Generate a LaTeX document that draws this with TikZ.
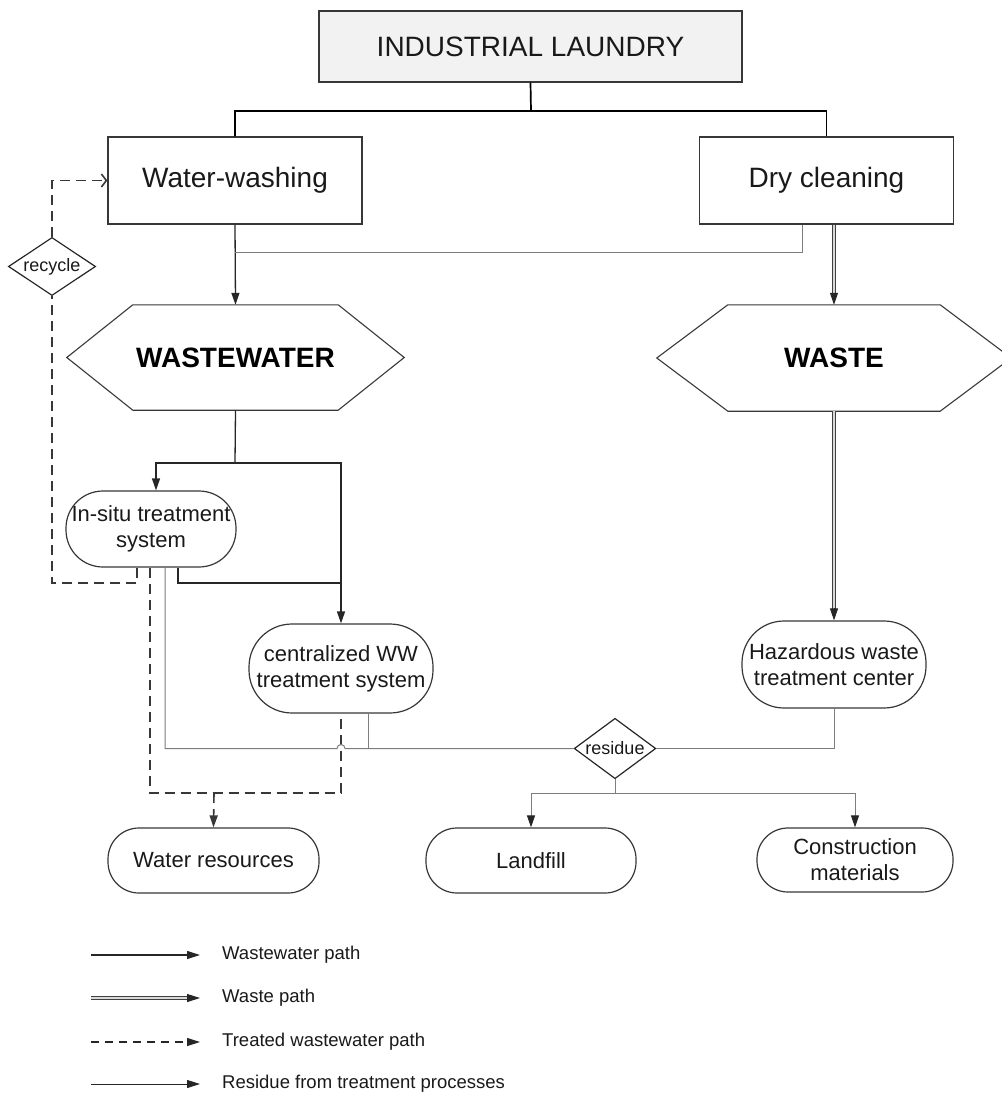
\documentclass[tikz,border=0pt]{standalone}
\usepackage{fontspec}
\setmainfont{Liberation Sans}
\usetikzlibrary{arrows.meta,shapes.geometric,calc}
\definecolor{titlegray}{RGB}{242,242,242}
\definecolor{edge}{RGB}{55,55,55}
\definecolor{resgray}{RGB}{125,125,125}
\definecolor{txt}{RGB}{25,25,25}
\begin{document}
\begin{tikzpicture}[x=1pt,y=-1pt,text=txt,
  box/.style={draw=edge,line width=1.2pt,inner sep=0pt,font=\fontsize{28}{32}\selectfont},
  pill/.style={draw=edge,line width=1.2pt,rounded corners=#1,inner sep=0pt,align=center,font=\fontsize{22}{26}\selectfont},
  hexnode/.style={inner sep=0pt,text=black,font=\bfseries\fontsize{28}{32}\selectfont},
  hexline/.style={draw=edge,line width=1.1pt},
  dia/.style={diamond,draw=black!85,line width=1.2pt,inner sep=1pt,font=\fontsize{18}{20}\selectfont},
  topline/.style={draw=black,line width=1.7pt},
  tip/.style={-{Triangle[length=12pt,width=8pt]}},
  darktip/.style={-{Triangle[length=12pt,width=8pt,color=black!85]}},
  wwline/.style={draw=black!85,line width=1.3pt},
  resline/.style={draw=resgray,line width=1pt},
  twline/.style={draw=black!78,line width=1.6pt,dash pattern=on 10pt off 6pt},
  wasteline/.style={draw=black!75,line width=1.2pt,double=white!85!black,double distance=1.8pt},
  legtext/.style={anchor=west,inner sep=0pt,font=\fontsize{18.5}{20}\selectfont}
]
\useasboundingbox (0,0) rectangle (1001,1094);

% main boxes
\node[box,fill=titlegray,minimum width=423pt,minimum height=71pt] (title) at (530.5,46.5) {INDUSTRIAL LAUNDRY};
\node[box,minimum width=254pt,minimum height=87pt] (wash) at (235,180.5) {Water-washing};
\node[box,minimum width=254pt,minimum height=87pt] (dry) at (826.5,180.5) {Dry cleaning};

% hexagons
\node[hexnode,minimum width=337pt,minimum height=105pt] (ww) at (235.5,357.5) {WASTEWATER};
\draw[hexline] (ww.west) -- ($(ww.north west)+(66,0)$) -- ($(ww.north east)+(-66,0)$) -- (ww.east)
  -- ($(ww.south east)+(-66,0)$) -- ($(ww.south west)+(66,0)$) -- cycle;
\node[hexnode,minimum width=354pt,minimum height=106pt] (waste) at (834,358) {WASTE};
\draw[hexline] (waste.west) -- ($(waste.north west)+(71,0)$) -- ($(waste.north east)+(-71,0)$) -- (waste.east)
  -- ($(waste.south east)+(-71,0)$) -- ($(waste.south west)+(71,0)$) -- cycle;

% pills
\node[pill=37pt,minimum width=170pt,minimum height=76pt] (insitu) at (151,529) {In-situ treatment\\system};
\node[pill=43pt,minimum width=184pt,minimum height=89pt] (central) at (341,668.5) {centralized WW\\treatment system};
\node[pill=42pt,minimum width=184pt,minimum height=87pt] (haz) at (834,664.5) {Hazardous waste\\treatment center};
\node[pill=31pt,minimum width=211pt,minimum height=65pt] (water) at (213.5,860.5) {Water resources};
\node[pill=31pt,minimum width=210pt,minimum height=65pt] (landfill) at (531,860.5) {Landfill};
\node[pill=31pt,minimum width=196pt,minimum height=64pt] (constr) at (855,860) {Construction\\materials};

% diamonds
\node[dia,aspect=1.5] (recycle) at (52,266.5) {recycle};
\node[dia,aspect=1.35] (res) at (615,748.5) {residue};

% junction coordinates
\coordinate (jtop) at (531,111);
\coordinate (j1) at (235,252);
\coordinate (j2) at (235,463);
\coordinate (j6) at (341,583);
\coordinate (j8) at (52,583);
\coordinate (j4) at (214,793);
\coordinate (j5) at (368,748.5);
\coordinate (j7) at (615,793);
\coordinate (hop) at (337,748.5);

% top connectors
\draw[topline] (title.south) -- (jtop) -| (wash.north);
\draw[topline] (jtop) -| (dry.north);

% wastewater paths
\draw[wwline,tip] (wash.south) -- (ww.north);
\draw[resline] ($(dry.south)+(-24.5,0)$) |- (j1);
\draw[wwline] (ww.south) -- (j2);
\draw[wwline,tip] (j2) -| ($(insitu.north)+(5,0)$);
\draw[wwline,tip] (j2) -| (central.north);
\draw[wwline] ($(insitu.south)+(27,0)$) |- (j6);

% waste path
\draw[wasteline,shorten >=10pt] ($(dry.south)+(7.5,0)$) -- (waste.north);
\draw[draw=black!85,line width=1pt,tip] ($(waste.north)+(0,-12)$) -- (waste.north);
\draw[wasteline,shorten >=10pt] (waste.south) -- (haz.north);
\draw[draw=black!85,line width=1pt,tip] ($(haz.north)+(0,-12)$) -- (haz.north);

% treated wastewater
\draw[twline] ($(insitu.south)+(-14,0)$) |- (j8) -- (recycle.south);
\draw[twline,-{Straight Barb[length=5pt,width=13pt]}] (recycle.north) |- (wash.west);
\draw[twline] ($(insitu.south)+(-1,0)$) |- (j4) -| (central.south);
\draw[twline,-{Triangle[length=12pt,width=8pt]}] (j4) -- (water.north);

% residue
\draw[resline] ($(insitu.south)+(14,0)$) |- (hop) arc[start angle=180,end angle=0,radius=4pt] -- (res.west);
\draw[resline] ($(central.south)+(27,0)$) -- (j5);
\draw[resline] (haz.south) |- (res.east);
\draw[resline] (res.south) -- (j7);
\draw[resline,darktip] (j7) -| (landfill.north);
\draw[resline,darktip] (j7) -| (constr.north);

% legend
\coordinate (l1a) at (91,955); \coordinate (l1b) at (200,955);
\coordinate (l2a) at (91,998); \coordinate (l2b) at (200,998);
\coordinate (l3a) at (91,1042); \coordinate (l3b) at (200,1042);
\coordinate (l4a) at (91,1084); \coordinate (l4b) at (200,1084);
\draw[wwline,line width=1.2pt,-{Triangle[length=13pt,width=8pt]}] (l1a) -- (l1b);
\draw[wasteline,shorten >=10pt] (l2a) -- (l2b);
\draw[draw=black!85,line width=1pt,-{Triangle[length=13pt,width=8pt]}] ($(l2b)+(-13,0)$) -- (l2b);
\draw[draw=black!85,line width=1.2pt,dash pattern=on 8pt off 6pt,-{Triangle[length=13pt,width=8pt]}] (l3a) -- (l3b);
\draw[draw=black!85,line width=1pt,-{Triangle[length=13pt,width=8pt]}] (l4a) -- (l4b);
\node[legtext] (t1) at (222,955) {Wastewater path};
\node[legtext] (t2) at (222,998) {Waste path};
\node[legtext] (t3) at (222,1042) {Treated wastewater path};
\node[legtext] (t4) at (222,1084) {Residue from treatment processes};
\end{tikzpicture}
\end{document}
